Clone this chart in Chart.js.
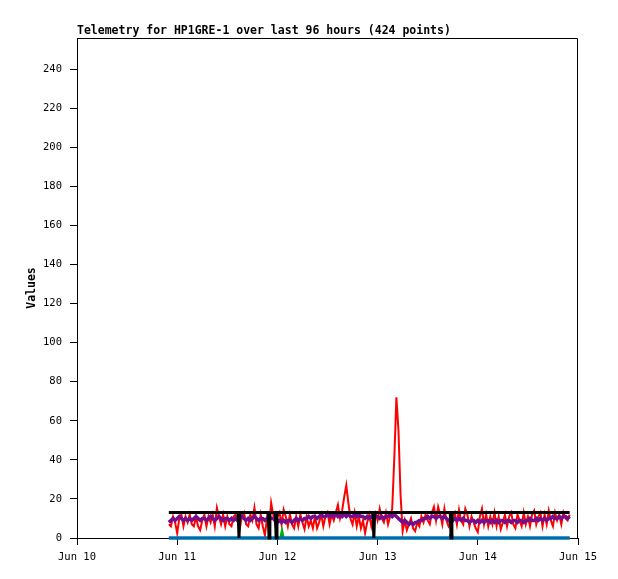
<!DOCTYPE html>
<html>
<head>
<meta charset="utf-8">
<script src="https://cdn.jsdelivr.net/npm/chart.js@4/dist/chart.umd.min.js"></script>
<style>
html,body{margin:0;padding:0;background:#fff;}
#c{display:block;}
</style>
</head>
<body>
<canvas id="c" width="618" height="579"></canvas>
<script>
// ---- data ----
const titleText = 'Telemetry for HP1GRE-1 over last 96 hours (424 points)';
const yAxisTitle = 'Values';
const xTickHours = [0, 24, 48, 72, 96, 120];
const xTickLabels = ['Jun 10', 'Jun 11', 'Jun 12', 'Jun 13', 'Jun 14', 'Jun 15'];
const yTickValues = [0, 20, 40, 60, 80, 100, 120, 140, 160, 180, 200, 220, 240];
const startHour = 22;     // Jun 10 22:00
const stepHours = 0.5;    // sample spacing

const redValues = [
  7, 6, 11, 8, 2.5, 10, 12, 6, 11, 8,
  12, 7, 6, 11, 6, 4, 9, 12, 6, 11,
  8, 12, 6, 15.5, 11, 7, 12, 6, 11, 7,
  6, 11, 12, 8, 5, 11, 13, 7, 6, 12,
  9, 15.5, 7, 5, 12, 6, 1.5, 10, 5, 18,
  12, 7, 11, 13, 7, 14.5, 11, 6, 12, 7,
  5, 11, 6, 12, 8, 4.5, 11, 6, 9, 5,
  11, 5, 8, 12, 6, 11, 13, 7, 12, 9,
  13, 17, 10, 14, 21, 27, 18, 10, 7, 13,
  6, 11, 5, 9, 2.5, 8, 12, 6, 11, 13,
  9, 15, 10, 8, 13, 7, 11, 15, 41, 72,
  55, 22, 3.5, 9, 4, 7, 10, 5, 3.5, 8,
  6, 11, 8, 12, 9, 7, 13, 16, 9, 16,
  12, 7, 15, 9, 6, 8, 11, 13, 7, 14.5,
  9, 7, 15, 12, 6, 11, 8, 5, 3, 11,
  15, 7, 12, 6, 11, 7, 13, 6, 11, 4.5,
  8, 12, 6, 11, 13, 7, 5, 12, 9, 6,
  13, 7, 11, 6, 12, 14, 7, 11, 13, 6,
  12, 7, 14, 9, 6, 13, 9, 12, 7, 13,
  10, 9, 12
];
const purpleValues = [
  8, 9, 10, 9, 10, 11, 10, 9, 10, 9,
  10, 9, 10, 11, 10, 9, 10, 10, 9, 10,
  11, 10, 9, 10, 11, 10, 9, 10, 10, 9,
  10, 9, 10, 9, 10, 11, 10, 9, 10, 9,
  10, 11, 10, 9, 10, 10, 9, 10, 11, 10,
  10, 9, 8, 9, 8, 9, 8, 9, 9, 8,
  9, 10, 9, 10, 9, 10, 10, 11, 10, 11,
  11, 10, 11, 12, 11, 11, 12, 11, 12, 11,
  12, 11, 12, 11, 12, 11, 12, 11, 11, 12,
  11, 12, 11, 11, 10, 11, 10, 11, 10, 11,
  11, 10, 11, 10, 11, 11, 12, 11, 12, 11,
  10, 9, 8, 9, 8, 7, 8, 7, 8, 8,
  9, 9, 10, 10, 11, 10, 11, 11, 10, 11,
  11, 10, 11, 10, 9, 8, 9, 10, 9, 10,
  9, 10, 9, 9, 8, 9, 9, 8, 9, 8,
  9, 8, 9, 9, 8, 9, 8, 9, 8, 9,
  9, 8, 9, 9, 8, 9, 9, 8, 9, 9,
  8, 9, 9, 10, 9, 9, 10, 9, 10, 9,
  10, 9, 10, 10, 11, 10, 10, 11, 10, 11,
  11, 10, 11
];
const blackHours  = [22, 38.6, 38.8, 39.0, 45.8, 46.0, 46.2, 47.5, 47.7, 47.9, 70.9, 71.1, 71.3, 89.4, 89.6, 89.8, 118];
const blackValues = [13, 13,   0,    13,   13,   0,    13,   13,   0,    13,   13,   0,    13,   13,   0,    13,   13];
const blueHours   = [22, 89.3, 89.6, 90.0, 118];
const blueValues  = [0,  0,    2,    0,    0];
const greenHours  = [22, 48.8, 49.1, 49.4, 118];
const greenValues = [0,  0,    3,    0,    0];

// ---- build ----
const toPts = (hrs, vals) => vals.map((v, i) => ({x: hrs[i], y: v}));
const gridPts = vals => vals.map((v, i) => ({x: startHour + i * stepHours, y: v}));

const FONT = "'DejaVu Sans Mono', 'Liberation Mono', monospace";

const frame = {
  id: 'frame',
  afterDraw(chart) {
    const {ctx, chartArea: a} = chart;
    ctx.save();
    ctx.strokeStyle = '#000';
    ctx.lineWidth = 1;
    ctx.beginPath();
    ctx.moveTo(a.left, a.top + 0.5);
    ctx.lineTo(a.right - 0.5, a.top + 0.5);
    ctx.lineTo(a.right - 0.5, a.bottom);
    ctx.stroke();
    ctx.restore();
  }
};

const common = {pointRadius: 0, tension: 0, fill: false, clip: false, borderJoinStyle: 'miter'};

new Chart(document.getElementById('c'), {
  type: 'line',
  data: {
    datasets: [
      Object.assign({label: 'black', data: toPts(blackHours, blackValues), borderColor: '#000000', borderWidth: 3}, common),
      Object.assign({label: 'blue', data: toPts(blueHours, blueValues), borderColor: '#0066cc', borderWidth: 3}, common),
      Object.assign({label: 'green', data: toPts(greenHours, greenValues), borderColor: '#00b000', backgroundColor: '#00b000', borderWidth: 3}, common),
      Object.assign({label: 'purple', data: gridPts(purpleValues), borderColor: '#730e8c', borderWidth: 3.5}, common),
      Object.assign({label: 'red', data: gridPts(redValues), borderColor: '#ff0000', borderWidth: 2}, common)
    ]
  },
  options: {
    responsive: false,
    animation: false,
    events: [],
    layout: {padding: {left: 0, right: 40, top: 0, bottom: 0}},
    plugins: {
      legend: {display: false},
      tooltip: {enabled: false},
      title: {
        display: true,
        text: titleText,
        align: 'start',
        fullSize: false,
        color: '#000',
        font: {family: FONT, size: 11.5, weight: 'bold', lineHeight: 1},
        padding: {top: 25, bottom: 1.5}
      }
    },
    scales: {
      x: {
        type: 'linear',
        min: 0,
        max: 120,
        afterBuildTicks: s => { s.ticks = xTickHours.map(v => ({value: v})); },
        afterFit: s => { s.height = 41; },
        ticks: {
          color: '#000',
          font: {family: FONT, size: 10.5},
          padding: 6,
          maxRotation: 0,
          autoSkip: false,
          callback: v => { const i = xTickHours.indexOf(v); return i >= 0 ? xTickLabels[i] : ''; }
        },
        grid: {display: true, drawOnChartArea: false, drawTicks: true, tickLength: 7, color: '#000', lineWidth: 1},
        border: {display: true, color: '#000', width: 1}
      },
      y: {
        type: 'linear',
        min: 0,
        max: 256,
        afterBuildTicks: s => { s.ticks = yTickValues.map(v => ({value: v})); },
        afterFit: s => { s.width = 77; },
        ticks: {
          color: '#000',
          font: {family: FONT, size: 10.5},
          padding: 8,
          autoSkip: false
        },
        grid: {display: true, drawOnChartArea: false, drawTicks: true, tickLength: 7, color: '#000', lineWidth: 1},
        border: {display: true, color: '#000', width: 1},
        title: {
          display: true,
          text: yAxisTitle,
          color: '#000',
          font: {family: FONT, size: 11.5, weight: 'bold', lineHeight: 1},
          padding: {top: 26, bottom: 0}
        }
      }
    }
  },
  plugins: [frame]
});
</script>
</body>
</html>
